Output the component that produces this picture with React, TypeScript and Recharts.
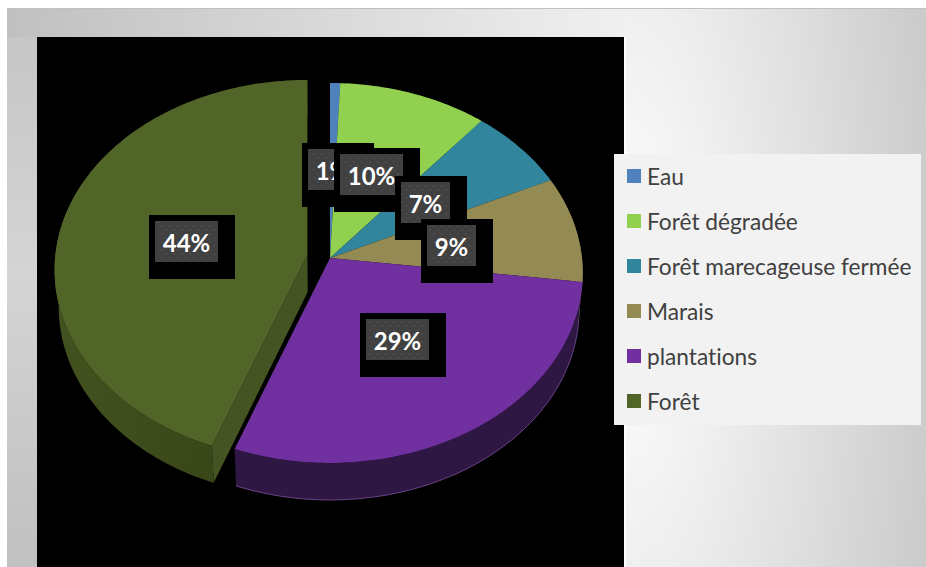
import { PieChart, Pie, Cell, Legend } from 'recharts';

const CATEGORIES = ['Eau', 'Forêt dégradée', 'Forêt marecageuse fermée', 'Marais', 'plantations', 'Forêt'];
const SHARES = [0.7, 10.3, 7, 9, 28.7, 44.3];

const TOP_COLORS = ['#4f81bd', '#92d050', '#31859c', '#948a54', '#7030a0', '#526528'];
const WALL_COLORS = ['#27405e', '#496828', '#18424e', '#4a452a', '#2f1744', 'url(#foretWall)'];
const EDGE_COLORS = ['#4f81bd', '#92d050', '#31859c', '#948a54', '#6b4488', 'none'];

// top-left corner of each black label box
const LABEL_X = [302, 334, 395, 421, 360, 149];
const LABEL_Y = [143, 148, 176, 219, 313, 215];

const FONT = 'Lato, "Open Sans", sans-serif';
const WIDTH = 926;
const HEIGHT = 567;

// excel-style 3d pie: tilted disc seen with a bit of perspective
const TILT = 0.749;
const PERSPECTIVE = 0.079;
const DEPTH = 37;
const BOTTOM_SHRINK = 0.985;
const EXPLODED = 5;
const EXPLODE_PX = 23;

const rad = (deg: number) => (deg * Math.PI) / 180;

function Slice3D(props: any) {
  const { cx, cy, outerRadius: r, startAngle, endAngle, index } = props;
  const mid = rad((startAngle + endAngle) / 2);
  const shift = index === EXPLODED ? EXPLODE_PX : 0;
  const ox = Math.cos(mid) * shift;
  const oy = -Math.sin(mid) * shift * TILT;

  const project = (deg: number, f = 1) => {
    const u = Math.cos(rad(deg)) * f;
    const v = -Math.sin(rad(deg)) * f;
    const d = 1 - PERSPECTIVE * v;
    return [cx + ox + (r * u) / d, cy + oy + (r * TILT * v) / d];
  };
  const lower = ([x, y]: number[]) => [cx + (x - cx) * BOTTOM_SHRINK, y + DEPTH];
  const toPath = (pts: number[][], close = false) =>
    pts.map((p, i) => `${i ? 'L' : 'M'}${p[0].toFixed(1)} ${p[1].toFixed(1)}`).join(' ') + (close ? ' Z' : '');

  const rim: number[][] = [];
  const steps = Math.max(2, Math.ceil(Math.abs(startAngle - endAngle)));
  for (let i = 0; i <= steps; i++) {
    rim.push(project(startAngle + ((endAngle - startAngle) * i) / steps));
  }
  const rimLow = rim.map(lower);
  const apex = project(0, 0);

  return (
    <g>
      <path d={toPath([...rim, ...[...rimLow].reverse()], true)} fill={WALL_COLORS[index]} />
      <path d={toPath(rimLow)} fill="none" stroke={EDGE_COLORS[index]} strokeWidth={1} />
      {index === EXPLODED && (
        <path d={toPath([apex, rim[0], rimLow[0], lower(apex)], true)} fill="#445422" />
      )}
      <path d={toPath([apex, ...rim], true)} fill={TOP_COLORS[index]} />
    </g>
  );
}

function renderLabel(props: any) {
  const { index, value } = props;
  const text = `${Math.round(value)}%`;
  const w = text.length > 2 ? 86 : 72;
  const x = LABEL_X[index];
  const y = LABEL_Y[index];
  return (
    <g key={index}>
      <rect x={x} y={y} width={w} height={64} fill="#000" />
      <rect x={x + 6} y={y + 6} width={w - 23} height={41} fill="url(#labelDots)" />
      <text
        x={x + 6 + (w - 23) / 2}
        y={y + 27}
        textAnchor="middle"
        dominantBaseline="central"
        fill="#fff"
        style={{ fontSize: 24, fontWeight: 700, fontFamily: FONT }}
      >
        {text}
      </text>
    </g>
  );
}

function LegendPanel({ payload }: any) {
  return (
    <div style={{ width: 307, height: 271, background: '#f2f2f2', position: 'relative' }}>
      {(payload || []).map((entry: any, i: number) => (
        <div
          key={entry.value}
          style={{ position: 'absolute', left: 13, top: 15 + i * 45, height: 14, display: 'flex', alignItems: 'center' }}
        >
          <span style={{ width: 14, height: 14, background: entry.color, display: 'inline-block', marginRight: 6 }} />
          <span style={{ fontFamily: FONT, fontSize: 22.7, color: '#404040', whiteSpace: 'nowrap', fontVariantLigatures: 'none' }}>
            {entry.value}
          </span>
        </div>
      ))}
    </div>
  );
}

export default function App() {
  const data = CATEGORIES.map((name, i) => ({ name, value: SHARES[i] }));
  return (
    <div style={{ position: 'absolute', left: 0, top: 0, width: WIDTH, height: HEIGHT, background: '#fff', overflow: 'hidden' }}>
      {/* slide background, light spot just right of the black plot area */}
      <div
        style={{
          position: 'absolute',
          left: 626,
          top: 8,
          width: 300,
          height: 559,
          background: 'radial-gradient(ellipse 375px 1100px at 0px 282px, #ffffff 0%, #c0c0c0 100%)',
        }}
      />
      <div
        style={{
          position: 'absolute',
          left: 7,
          top: 8,
          width: 619,
          height: 29,
          background: 'linear-gradient(90deg, #c0c0c0 0%, #f0f0f0 100%)',
        }}
      />
      <div
        style={{
          position: 'absolute',
          left: 7,
          top: 37,
          width: 30,
          height: 530,
          background: 'linear-gradient(180deg, #c6c6c6 0%, #d4d4d4 45%, #c0c0c0 100%)',
        }}
      />
      <div style={{ position: 'absolute', left: 7, top: 8, width: 919, height: 1, background: '#c0c0c0' }} />
      <div style={{ position: 'absolute', left: 37, top: 37, width: 587, height: 530, background: '#000' }} />
      <div style={{ position: 'absolute', left: 0, top: 0 }}>
        <PieChart width={WIDTH} height={HEIGHT} margin={{ top: 0, right: 0, bottom: 0, left: 0 }}>
          <defs>
            <pattern id="labelDots" width="8" height="8" patternUnits="userSpaceOnUse">
              <rect width="8" height="8" fill="#404040" />
              <circle cx="2" cy="2" r="1" fill="#4d4d4d" />
              <circle cx="6" cy="6" r="1" fill="#4d4d4d" />
            </pattern>
            <linearGradient id="foretWall" x1="0" y1="0" x2="1" y2="0">
              <stop offset="0%" stopColor="#43531f" />
              <stop offset="60%" stopColor="#3a4819" />
              <stop offset="100%" stopColor="#2b3512" />
            </linearGradient>
          </defs>
          <Pie
            data={data}
            dataKey="value"
            nameKey="name"
            cx={330}
            cy={258}
            innerRadius={0}
            outerRadius={252}
            startAngle={90}
            endAngle={-270}
            stroke="none"
            shape={Slice3D}
            label={renderLabel}
            labelLine={false}
            isAnimationActive={false}
          >
            {data.map((d, i) => (
              <Cell key={d.name} fill={TOP_COLORS[i]} />
            ))}
          </Pie>
          <Legend
            layout="vertical"
            align="right"
            verticalAlign="top"
            itemSorter={null}
            content={<LegendPanel />}
            wrapperStyle={{ position: 'absolute', left: 614, top: 154, width: 307, height: 271 }}
          />
        </PieChart>
      </div>
    </div>
  );
}
